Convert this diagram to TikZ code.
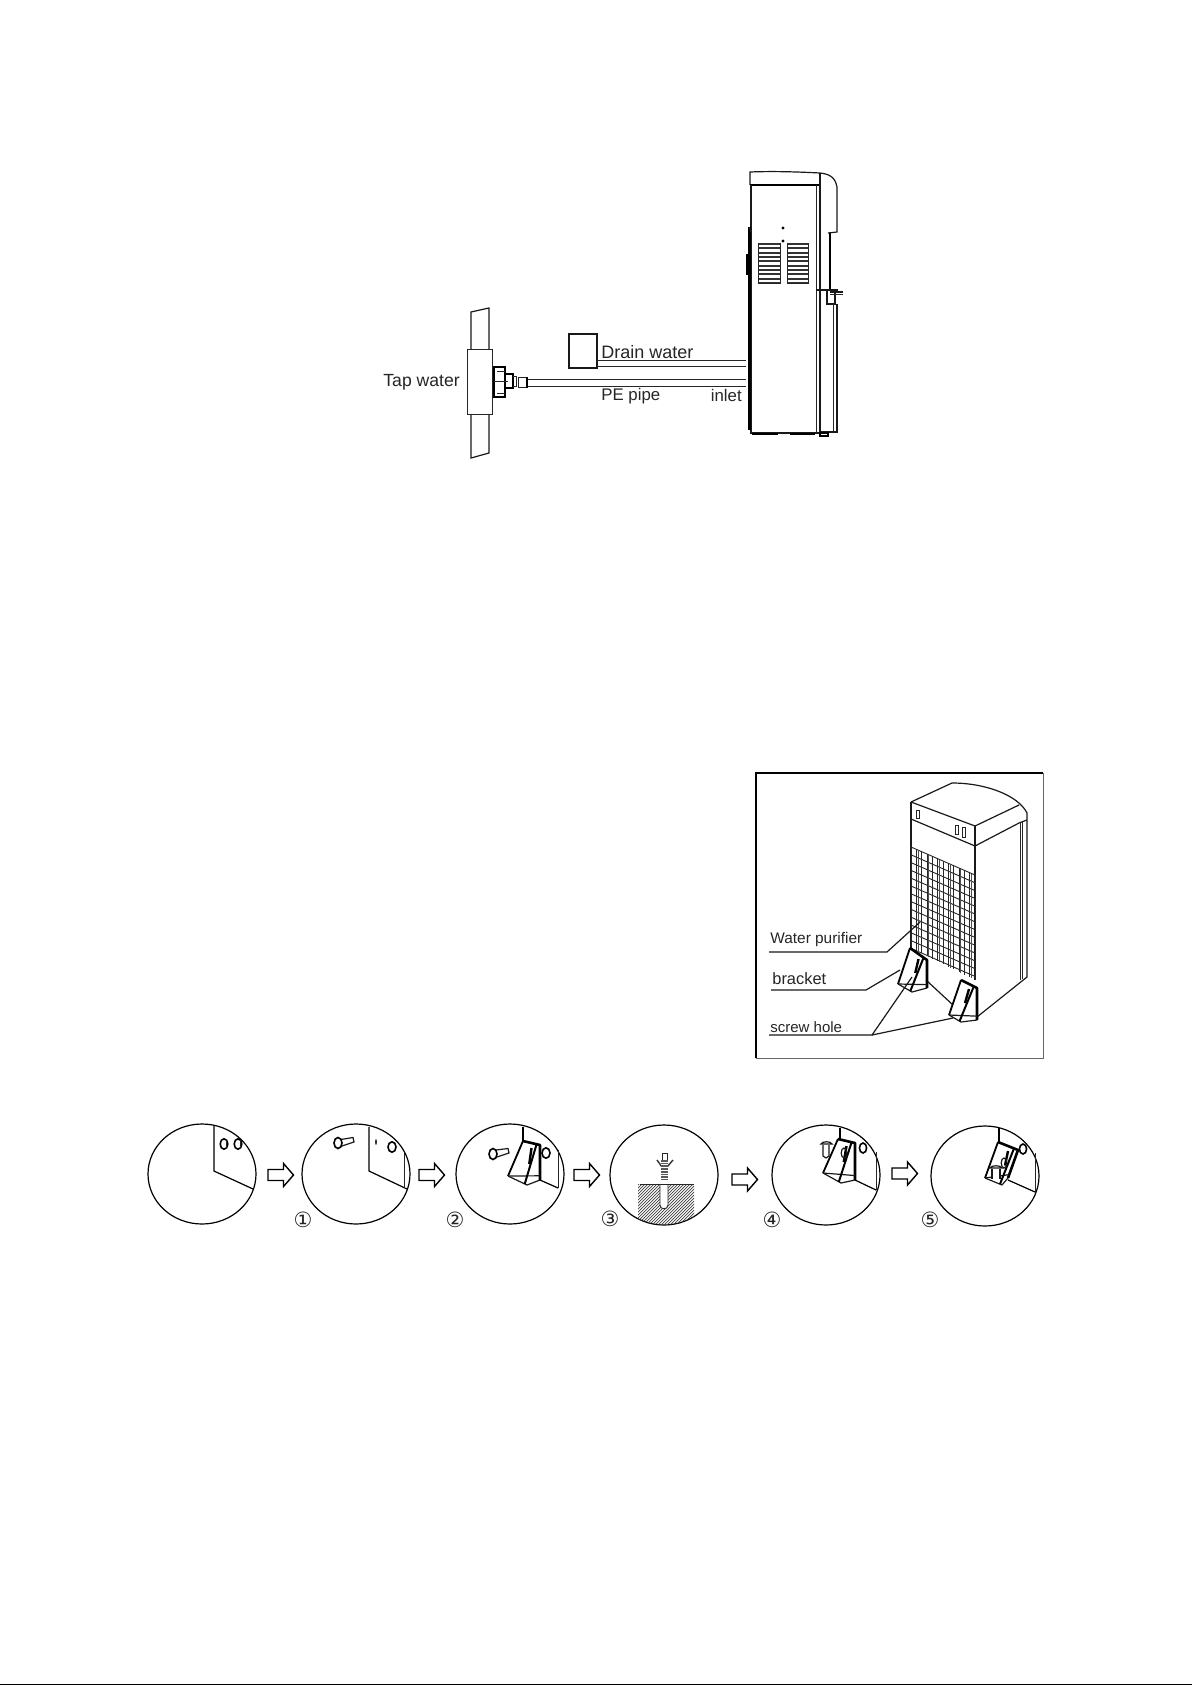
\documentclass[tikz,border=0pt]{standalone}
\usepackage{fontspec}
\setmainfont{Liberation Sans}
\newfontfamily\symfont{DejaVu Sans}
\usetikzlibrary{calc}
\tikzset{
  thin line/.style={line width=0.45pt,draw=black!85},
  body line/.style={line width=0.6pt,draw=black!90},
  heavy line/.style={line width=1.0pt,draw=black},
  label text/.style={inner sep=0pt,anchor=base west,font=\fontsize{8.4}{10}\selectfont,text=black!85},
  step circle/.style={line width=0.6pt,draw=black},
  step num/.style={inner sep=0pt,font=\symfont\fontsize{10.5}{12}\selectfont,text=black!85},
  block arrow/.style={line width=0.7pt,draw=black,fill=white}
}
\newcommand{\brk}[5]{%
  \coordinate (pa) at #1;\coordinate (pb) at #2;\coordinate (pc) at #3;\coordinate (pd) at #4;\coordinate (pe) at #5;
  \draw[line width=0.9pt,line join=round] (pe)--(pa);
  \draw[body line,line join=round] (pc)--(pd)--(pe);
  \draw[line width=1.3pt,line join=round] (pa)--(pb)--(pc);
  \draw[body line] (pe)--($(pc)!.12!(pb)$);
  \draw[line width=1.0pt] ($(pa)!.8!(pb)$)--($(pd)!.12!(pe)$);
  \draw[line width=1.2pt] ($(pa)!.5!(pb)+(0,5)$)--($(pa)!.5!(pb)!.5!(pd)$);
}
\newcommand{\barrow}[3]{% x0, y centre, half bar
  \draw[block arrow] (#1,#2-#3)--(#1+15.5,#2-#3)--(#1+15.5,#2-11.5)--(#1+25.5,#2)--(#1+15.5,#2+11.5)--(#1+15.5,#2+#3)--(#1,#2+#3)--cycle;
}
\begin{document}
\begin{tikzpicture}[x=0.5pt,y=-0.5pt]
\useasboundingbox (0,0) rectangle (1192,1685);
\fill[white] (0,0) rectangle (1192,1685);
\fill[black] (0,1683.5) rectangle (1192,1685);

% --- water cooler, side view
\draw[body line] (750,185)--(750,172) .. controls (775,171) and (800,172) .. (820,173) .. controls (828,174) and (835,176) .. (837,187)--(837,232)--(828,233);
\draw[heavy line] (750,185)--(820,185);
\draw[body line] (820,173)--(820,432);
\draw[thin line] (816,185)--(816,433);
\draw[body line] (751,185)--(751,433)--(820,433);
\draw[heavy line] (830,233)--(830,290);
\draw[body line] (816,290)--(838,290);
\draw[body line] (827,291)--(827,304)--(835,304)--(835,293);
\draw[body line] (830,292)--(843,292);
\draw[thin line] (830,294)--(843,294);
\draw[body line] (837,304)--(837,432)--(820,432);
\draw[thin line] (833,304)--(833,431);
\draw[heavy line] (752,434)--(778,434);
\draw[heavy line] (790,434)--(815,434);
\draw[heavy line] (820,433)--(828,433)--(828,436)--(820,436)--cycle;
\draw[line width=1.5pt] (749,227)--(749,430);
\draw[line width=1.4pt] (747,254)--(747,275);
\draw[thin line] (751,232)--(749,227);
\fill[black] (783,228) circle (0.8pt);
\fill[black] (783,241) circle (0.8pt);
\foreach \vy in {0,...,9}{
  \draw[line width=1.0pt,draw=black!80] (758.5,244+\vy*4.35)--(780,244+\vy*4.35);
  \draw[line width=1.0pt,draw=black!80] (787,244+\vy*4.35)--(808.5,244+\vy*4.35);
}
\draw[thin line] (758,243)--(758,283)--(780,283)--(780,243);
\draw[thin line] (787,243)--(787,283)--(808,283)--(808,243);

% --- pipes
\draw[body line] (569,334) rectangle (597,368);
\draw[thin line] (597,360)--(746,360);
\draw[thin line] (597,366)--(746,366);
\draw[thin line] (528,379)--(746,379);
\draw[thin line] (528,386)--(746,386);

% --- tap pipe and fitting
\draw[body line] (471,349)--(471,312)--(489,308)--(489,349);
\draw[body line] (471,414)--(471,458)--(489,453)--(489,414);
\draw[thin line] (467,349) rectangle (492,414);
\draw[heavy line] (494,367)--(505,367)--(505,397)--(494,397)--cycle;
\draw[thin line] (497,371)--(505,371);
\draw[thin line] (497,393)--(505,393);
\draw[line width=1.4pt] (494,367)--(494,397);
\draw[line width=0.8pt] (506,374)--(513,374)--(513,388)--(506,388);
\draw[thin line] (494,381)--(508,381);
\draw[thin line] (513,376)--(516,376)--(516,386)--(513,386);
\draw[thin line] (518,377) rectangle (526,387);
\draw[line width=1.2pt] (527,377)--(527,388);

% --- labels of the piping view
\node[label text,font=\fontsize{8.8}{10}\selectfont] (tap) at (383,386) {Tap water};
\node[label text,font=\fontsize{9}{10}\selectfont] (drain) at (601,358) {Drain water};
\node[label text] (pe) at (601,400.5) {PE pipe};
\node[label text] (inlet) at (710.5,401) {inlet};

% --- purifier with brackets
\draw[line width=1.0pt,draw=black] (756,1058)--(756,773)--(1043,773);
\draw[line width=0.5pt,draw=black!60] (1043,773)--(1043,1058)--(756,1058);
\draw[body line] (911,802)--(952,783) .. controls (985,783) and (1018,795) .. (1027,813)--(1027,977)--(977,1017);
\draw[body line] (911,802)--(975,826)--(1019,805);
\draw[body line] (911,819)--(975,846)--(1019,823)--(1027,820);
\draw[body line] (911,802)--(911,948);
\draw[body line] (975,826)--(975,980);
\draw[thin line] (1020,823)--(1020,980);
\draw[thin line] (1022,822)--(1022,979);
\draw[thin line] (916,810) rectangle (919,818);
\draw[thin line] (955,825) rectangle (958,834);
\draw[thin line] (962,827) rectangle (965.5,837);
\foreach \gi in {0,...,13}
  \draw[thin line] (911,847+\gi*7.8)--(975,875+\gi*7.8);
\foreach \gi in {0,...,12}
  \draw[thin line] (911+\gi*5.33,847+\gi*2.33)--(911+\gi*5.33,948+\gi*2.67);
\foreach \gi in {1,3,5,7,9,11}
  \draw[line width=0.35pt,draw=black!70] (912.6+\gi*5.33,848+\gi*2.33)--(912.6+\gi*5.33,949+\gi*2.67);
\draw[body line] (926,980)--(953,1005);
\brk{(910,948)}{(927,960)}{(927,988)}{(912,992)}{(898,984)}
\brk{(961,980)}{(977,988)}{(977,1020)}{(961,1022)}{(949,1015)}
\node[label text,font=\fontsize{7.7}{10}\selectfont] (purifier) at (770,943) {Water purifier};
\node[label text,font=\fontsize{8.2}{10}\selectfont] (bracket) at (772,984) {bracket};
\node[label text,font=\fontsize{7.5}{10}\selectfont] (hole) at (770,1032) {screw hole};
\coordinate (lpa) at (769,952);\coordinate (lpb) at (887,952);\coordinate (lpc) at (920,922);
\coordinate (lba) at (771,990);\coordinate (lbb) at (866,990);\coordinate (lbc) at (900,970);
\coordinate (lsa) at (769,1035);\coordinate (lsb) at (872,1035);\coordinate (lsc) at (912,977);\coordinate (lsd) at (953,1018);
\draw[body line] (lpa)--(lpb)--(lpc);
\draw[body line] (lba)--(lbb)--(lbc);
\draw[body line] (lsa)--(lsb)--(lsc);
\draw[body line] (lsb)--(lsd);

% --- installation steps: circles
\draw[step circle] (202,1174) ellipse (54 and 50);
\draw[step circle] (356,1174) ellipse (54 and 50);
\draw[step circle] (510,1174) ellipse (54 and 50);
\draw[step circle] (664,1175) ellipse (54 and 50);
\draw[step circle] (826,1175) ellipse (54 and 50);
\draw[step circle] (985,1176) ellipse (54 and 50);

% step 0
\draw[step circle] (214,1126)--(214,1171)--(253,1189);
\draw[line width=0.8pt] (224,1144) ellipse (3.8 and 5.2);
\draw[line width=0.8pt] (238,1144) ellipse (3.8 and 5.2);
\draw[thin line] (226.5,1140)--(226.5,1148);
\draw[thin line] (240.5,1140)--(240.5,1148);
% step 1
\draw[step circle] (369,1127)--(369,1171)--(407,1189);
\draw[thin line] (404,1153)--(404,1188);
\fill (376,1142) ellipse (0.8 and 3);
\draw[line width=0.8pt] (392,1147) ellipse (4 and 5.2);
\draw[body line] (341,1139.5)--(353,1137.5)--(354,1142)--(342,1146);
\draw[line width=0.8pt,fill=white] (338,1143) ellipse (4 and 5.5);
% step 2
\draw[step circle] (523,1127)--(523,1141);
\draw[step circle] (540,1180)--(558,1188);
\draw[thin line] (558,1150)--(558,1188);
\draw[line width=0.8pt] (546,1153) ellipse (4 and 5.2);
\draw[body line] (496,1150)--(508,1148.5)--(509,1153)--(497,1157);
\draw[line width=0.8pt,fill=white] (493,1154) ellipse (4 and 5.5);
\brk{(523,1141)}{(540,1145)}{(540,1180)}{(527,1185)}{(508,1176)}
% step 3
\begin{scope}
  \clip (664,1175) ellipse (54 and 50);
  \clip (638,1184) rectangle (694,1226);
  \foreach \hi in {0,...,36}
    \draw[line width=0.35pt,draw=black!75] (590+\hi*3,1230)--(590+\hi*3+46,1184);
\end{scope}
\draw[thin line,fill=white] (660,1184)--(660,1205) .. controls (660,1210) and (668,1210) .. (668,1205)--(668,1184);
\draw[thin line] (640,1184)--(694,1184);
\draw[thin line] (662,1153) rectangle (667,1160);
\draw[line width=0.7pt,draw=black!80] (657,1160)--(662,1167);
\draw[line width=0.7pt,draw=black!80] (673,1160)--(667,1167);
\fill[black!65] (661,1160) rectangle (668,1180);
\foreach \ai in {0,...,6}
  \draw[white,line width=0.3pt] (661,1162+\ai*2.7)--(668,1162+\ai*2.7);
% step 4
\draw[step circle] (840,1128)--(840,1139);
\draw[step circle] (855,1180)--(876,1190);
\draw[thin line] (876,1152)--(876,1190);
\draw[line width=0.8pt] (863,1148) ellipse (3.6 and 5);
\brk{(838,1139)}{(855,1143)}{(855,1180)}{(841,1183)}{(823,1173)}
\draw[body line] (844,1153) ellipse (2.8 and 5);
\draw[body line] (821,1144)..controls (822,1141) and (831,1141)..(832,1144)--cycle;
\draw[body line] (823,1145)--(823,1156)--(826,1158)--(829,1156)--(829,1145);
% step 5
\draw[step circle] (999,1128)--(999,1142);
\draw[step circle] (1008,1180)--(1035,1192);
\draw[thin line] (1035,1153)--(1035,1192);
\draw[line width=0.8pt] (1023,1149) ellipse (3.6 and 5);
\brk{(998,1142)}{(1018,1150)}{(1008,1178)}{(1002,1185)}{(985,1178)}
\draw[body line] (1004,1163) ellipse (2.8 and 5);
\fill[white] (991,1168) rectangle (1001,1178);
\draw[body line] (990,1168)..controls (991,1165) and (1001,1165)..(1002,1168)--cycle;
\draw[body line] (992,1169)--(992,1179);
\draw[body line] (1000,1169)--(1000,1179);

% --- arrows
\barrow{268}{1175}{5.5}
\barrow{419}{1175}{5.5}
\barrow{574}{1175}{5.5}
\barrow{732}{1179.5}{5.5}
\barrow{892}{1173.5}{5.5}

% --- step numbers
\node[step num] (n1) at (303,1220) {①};
\node[step num] (n2) at (455,1220) {②};
\node[step num] (n3) at (610,1219) {③};
\node[step num] (n4) at (772,1220) {④};
\node[step num] (n5) at (930,1220) {⑤};
\end{tikzpicture}
\end{document}
